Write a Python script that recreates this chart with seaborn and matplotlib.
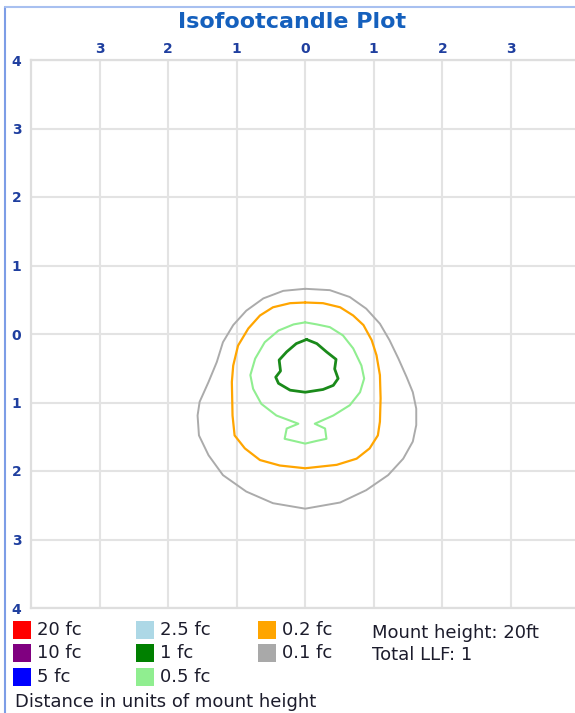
import numpy as np
import pandas as pd
import seaborn as sns
import matplotlib.pyplot as plt
from matplotlib.patches import Rectangle
from matplotlib.lines import Line2D

# isofootcandle contours, in units of mount height (x across, y: + behind, - in front)
gray_x = [0.0, 0.36, 0.65, 0.89, 1.09, 1.23, 1.36, 1.48, 1.57, 1.62, 1.62, 1.57, 1.43, 1.21, 0.89, 0.51, 0.0,
          -0.47, -0.86, -1.20, -1.41, -1.55, -1.57, -1.54, -1.41, -1.29, -1.20, -1.05, -0.86, -0.61, -0.32]
gray_y = [0.66, 0.64, 0.54, 0.37, 0.15, -0.09, -0.36, -0.63, -0.85, -1.09, -1.33, -1.57, -1.82, -2.06, -2.28, -2.46, -2.55,
          -2.47, -2.30, -2.06, -1.77, -1.48, -1.19, -0.99, -0.70, -0.41, -0.12, 0.13, 0.34, 0.52, 0.63]

orange_x = [0.0, 0.26, 0.51, 0.70, 0.85, 0.97, 1.04, 1.09, 1.10, 1.09, 1.06, 0.94, 0.75, 0.46, 0.0,
            -0.37, -0.66, -0.88, -1.03, -1.06, -1.07, -1.05, -0.98, -0.83, -0.66, -0.47, -0.22]
orange_y = [0.46, 0.45, 0.39, 0.27, 0.13, -0.09, -0.31, -0.60, -0.94, -1.28, -1.48, -1.67, -1.82, -1.91, -1.96,
            -1.92, -1.84, -1.67, -1.48, -1.19, -0.70, -0.46, -0.17, 0.08, 0.27, 0.39, 0.45]

lgreen_x = [0.0, 0.17, 0.36, 0.55, 0.70, 0.82, 0.86, 0.80, 0.65, 0.41, 0.14, 0.29, 0.31, 0.17, 0.0,
            -0.17, -0.30, -0.27, -0.10, -0.42, -0.64, -0.76, -0.80, -0.73, -0.59, -0.39, -0.17]
lgreen_y = [0.17, 0.14, 0.10, -0.02, -0.21, -0.46, -0.65, -0.85, -1.04, -1.19, -1.31, -1.38, -1.53, -1.56, -1.60,
            -1.56, -1.53, -1.38, -1.31, -1.19, -1.02, -0.80, -0.60, -0.36, -0.12, 0.05, 0.14]

dgreen_x = [0.02, 0.17, 0.31, 0.45, 0.43, 0.48, 0.41, 0.26, 0.0, -0.22, -0.39, -0.43, -0.36, -0.38, -0.27, -0.13]
dgreen_y = [-0.08, -0.14, -0.26, -0.37, -0.51, -0.65, -0.75, -0.81, -0.85, -0.82, -0.72, -0.63, -0.54, -0.38, -0.26, -0.14]

legend_labels = ["20 fc", "10 fc", "5 fc", "2.5 fc", "1 fc", "0.5 fc", "0.2 fc", "0.1 fc"]
legend_colors = ["#ff0000", "#800080", "#0000ff", "#add8e6", "#008000", "#90ee90", "#ffa500", "#a9a9a9"]

xticks = [-3, -2, -1, 0, 1, 2, 3]
yticks = [4, 3, 2, 1, 0, -1, -2, -3, -4]

sns.set_style("white")
plt.rcParams['font.family'] = ['DejaVu Sans']

fig = plt.figure(figsize=(5.75, 7.13), dpi=100)
ax = fig.add_axes([31 / 575, 1 - 608 / 713, 544 / 575, 548 / 713])

def closed(xs, ys):
    return pd.DataFrame({"x": xs + xs[:1], "y": ys + ys[:1]})

for xs, ys, col, lw in [(gray_x, gray_y, "#ababab", 1.4),
                        (orange_x, orange_y, "#ffa500", 1.6),
                        (lgreen_x, lgreen_y, "#90ee90", 1.5),
                        (dgreen_x, dgreen_y, "#1a8a1a", 2.0)]:
    d = closed(xs, ys)
    sns.lineplot(data=d, x="x", y="y", sort=False, estimator=None, color=col, linewidth=lw, ax=ax)

ax.set_xlim(-4, 270 / 68.6)
ax.set_ylim(-4, 4)
ax.set_xlabel("")
ax.set_ylabel("")

tick_col = "#1f3f9f"
ax.set_xticks(xticks)
ax.set_xticklabels([str(abs(t)) for t in xticks])
ax.set_yticks(yticks)
ax.set_yticklabels([str(abs(t)) for t in yticks])
ax.xaxis.tick_top()
ax.tick_params(axis="both", length=0, colors=tick_col, labelsize=10)
ax.tick_params(axis="x", pad=3)
ax.tick_params(axis="y", pad=7)
for lab in ax.get_xticklabels() + ax.get_yticklabels():
    lab.set_fontweight("bold")
ax.grid(True, color="#e3e3e3", linewidth=1.5)
ax.set_axisbelow(True)
for s in ["left", "top", "bottom"]:
    ax.spines[s].set_color("#dedede")
    ax.spines[s].set_linewidth(1.6)
ax.spines["right"].set_visible(False)

fig.text(292 / 575, 1 - 22 / 713, "Isofootcandle Plot", ha="center", va="center",
         fontsize=16, fontweight="bold", color="#1560bd")

# window border
fig.add_artist(Line2D([5 / 575, 5 / 575], [0, 1 - 7 / 713], color="#7d9de6", linewidth=1.5))
fig.add_artist(Line2D([5 / 575, 1], [1 - 7 / 713, 1 - 7 / 713], color="#a8c0f0", linewidth=1.5))

# legend
col_x = [13, 136, 258]
row_y = [630, 653, 677]
txt_col = "#1c1c2c"
for i, (lab, c) in enumerate(zip(legend_labels, legend_colors)):
    cx = col_x[i // 3]
    cy = row_y[i % 3]
    fig.add_artist(Rectangle((cx / 575, 1 - (cy + 9) / 713), 18 / 575, 18 / 713,
                             facecolor=c, edgecolor="none", transform=fig.transFigure))
    fig.text((cx + 24) / 575, 1 - cy / 713, lab, ha="left", va="center", fontsize=13, color=txt_col)

fig.text(372 / 575, 1 - 633 / 713, "Mount height: 20ft", ha="left", va="center", fontsize=13, color=txt_col)
fig.text(372 / 575, 1 - 655 / 713, "Total LLF: 1", ha="left", va="center", fontsize=13, color=txt_col)
fig.text(15 / 575, 1 - 702 / 713, "Distance in units of mount height", ha="left", va="center",
         fontsize=13, color=txt_col)

fig.savefig("out.png", dpi=100)
